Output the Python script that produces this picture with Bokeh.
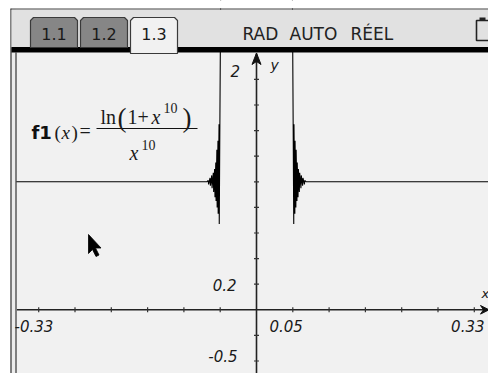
from bokeh.plotting import figure
from bokeh.models import Range1d
from bokeh.core.properties import value
from bokeh.embed import file_html
from bokeh.resources import INLINE
import math

# ---------------- data ----------------
# f1(x) = ln(1+x^10)/x^10 as drawn by the calculator
left_x = [-0.331, -0.071, -0.0685, -0.0665, -0.066, -0.064, -0.0635, -0.0617, -0.0612,
          -0.0595, -0.059, -0.0577, -0.0572, -0.0561, -0.0557, -0.0546, -0.0542,
          -0.0531, -0.0528, -0.0516, -0.0513, -0.0492]
left_y = [1.0, 1.0, 1.0, 1.01, 0.98, 1.03, 0.97, 1.05, 0.95,
          1.07, 0.92, 1.10, 0.88, 1.15, 0.85, 1.25, 0.80,
          1.32, 0.75, 1.45, 0.67, 2.6]
right_x = [0.0493, 0.0513, 0.0516, 0.0528, 0.0531, 0.0542, 0.0546, 0.0557, 0.0561,
           0.0572, 0.0577, 0.059, 0.0595, 0.0612, 0.0617, 0.0635, 0.064, 0.066,
           0.0665, 0.0685, 0.071, 0.325]
right_y = [2.6, 0.67, 1.45, 0.75, 1.32, 0.80, 1.25, 0.85, 1.15,
           0.88, 1.10, 0.92, 1.07, 0.95, 1.05, 0.97, 1.03, 0.98,
           1.01, 1.0, 1.0, 1.0]

x_ticks = [-0.30, -0.25, -0.20, -0.15, -0.10, -0.05, 0.05, 0.10, 0.15, 0.20, 0.25, 0.30]
y_ticks = [-0.4, -0.2, 0.2, 0.4, 0.6, 0.8, 1.0, 1.2, 1.4, 1.6, 1.8]
x_axis_labels = ["-0.33", "0.05", "0.33"]
y_axis_labels = ["2", "0.2", "-0.5"]
tab_labels = ["1.1", "1.2", "1.3"]
status_words = ["RAD", "AUTO", "RÉEL"]

# ---------------- figure ----------------
X0, X1 = -0.35262, 0.31956
Y0, Y1 = -0.4977, 2.4164
p = figure(width=488, height=373, output_backend="svg", toolbar_location=None,
           x_axis_type=None, y_axis_type=None, min_border=0,
           x_range=Range1d(X0, X1), y_range=Range1d(Y0, Y1),
           background_fill_color="white", border_fill_color="white",
           outline_line_color=None)
p.extra_x_ranges = {"px": Range1d(0, 488)}
p.extra_y_ranges = {"py": Range1d(373, 0)}
PX = dict(x_range_name="px", y_range_name="py")
TEXT_DY = -5


def txt(x, y, s, size, font="DejaVu Sans", style="normal", align="left",
        color="#1a1a1a"):
    p.text(x=[x], y=[y + TEXT_DY], text=[s], text_font=value(font),
           text_font_style=style, text_font_size=value(f"{size}px"),
           text_align=align, text_baseline="alphabetic", text_color=color, **PX)


# plot area background
p.quad(left=[15], right=[488], top=[52], bottom=[373], fill_color="#f1f1f1",
       line_color=None, **PX)

# axes
p.segment(x0=[-0.33, 0], y0=[0, Y0], x1=[X1, 0], y1=[0, 2.0], line_color="#222222",
          line_width=1.6)
p.scatter(x=x_ticks, y=[0] * len(x_ticks), marker="dash", angle=math.pi / 2, size=5,
          line_color="#333333", line_width=1.2)
p.scatter(x=[0] * len(y_ticks), y=y_ticks, marker="dash", size=5,
          line_color="#333333", line_width=1.2)
# arrow heads
p.patch(x=[256, 251.5, 256, 260.5], y=[52.5, 64, 61, 64], fill_color="#111111",
        line_color="#111111", line_width=1, **PX)
p.patch(x=[488.5, 480, 483, 480], y=[309.3, 305, 309.3, 313.6], fill_color="#111111",
        line_color="#111111", line_width=1, **PX)

# curve
p.line(left_x, left_y, line_color="black", line_width=1.1)
p.line(right_x, right_y, line_color="black", line_width=1.1)

# left margin and double frame (over the curve)
p.quad(left=[-5], right=[10], top=[-5], bottom=[380], fill_color="white",
       line_color=None, **PX)
p.quad(left=[10], right=[15], top=[8], bottom=[373], fill_color="#ececec",
       line_color=None, **PX)
p.segment(x0=[10.5, 15.5], y0=[8, 52], x1=[10.5, 15.5], y1=[373, 373],
          line_color="#333333", line_width=1.2, **PX)

# axis labels
txt(14, 330, x_axis_labels[0], 15, style="italic")
txt(269, 330, x_axis_labels[1], 15, style="italic")
txt(484, 330, x_axis_labels[2], 15, style="italic", align="right")
txt(230, 75, y_axis_labels[0], 15, style="italic")
txt(236, 289, y_axis_labels[1], 15, style="italic", align="right")
txt(237, 360, y_axis_labels[2], 15, style="italic", align="right")
txt(270, 69, "y", 14, style="italic")
txt(481, 298, "x", 13, style="italic")

# formula f1(x) = ln(1+x^10)/x^10
txt(31, 137, "f1", 18, font="DejaVu Sans", style="bold", color="#111111")
txt(54, 137, "(", 19, font="Liberation Serif")
txt(61, 137, "x", 19, font="Liberation Serif", style="italic")
txt(71, 137, ")", 19, font="Liberation Serif")
txt(79, 135, "=", 20, font="Liberation Serif")
p.segment(x0=[96], y0=[128], x1=[197], y1=[128], line_color="#111111",
          line_width=1.2, **PX)
txt(100, 121, "ln", 20, font="Liberation Serif")
txt(117, 122, "(", 27, font="Liberation Serif")
txt(127, 121, "1+", 20, font="Liberation Serif")
txt(151, 121, "x", 20, font="Liberation Serif", style="italic")
txt(163, 112, "10", 14, font="Liberation Serif")
txt(182, 122, ")", 27, font="Liberation Serif")
txt(129, 157, "x", 20, font="Liberation Serif", style="italic")
txt(141, 149, "10", 14, font="Liberation Serif")

# mouse cursor
p.patch(x=[88, 88, 92, 95.5, 98.5, 95, 100.5],
        y=[234, 253, 249, 256, 254.5, 247.5, 247.5],
        fill_color="#000000", line_color="#000000", line_width=0.8, **PX)

# ---------------- top chrome ----------------
p.quad(left=[-5], right=[495], top=[-5], bottom=[8], fill_color="white",
       line_color=None, **PX)
p.quad(left=[11], right=[488], top=[9], bottom=[47], fill_color="#e1e1e1",
       line_color=None, **PX)
p.segment(x0=[10], y0=[8.5], x1=[488], y1=[8.5], line_color="#444444",
          line_width=1.2, **PX)
p.quad(left=[11], right=[488], top=[46.5], bottom=[52], fill_color="#000000",
       line_color=None, **PX)
tab_left = [30, 80, 130]
tab_fill = ["#868686", "#868686", "#f1f1f1"]
for i, lft in enumerate(tab_left):
    bottom = 53 if i == 2 else 47
    p.patch(x=[lft, lft, lft + 3, lft + 44, lft + 47, lft + 47],
            y=[bottom, 20, 17, 17, 20, bottom], fill_color=tab_fill[i],
            line_color="#3a3a3a", line_width=1.2, **PX)
    txt(lft + 23.5, 38, tab_labels[i], 16, align="center", color="#1a1a1a")

txt(242, 38, status_words[0], 17, color="#222222")
txt(289, 38, status_words[1], 17, color="#222222")
txt(350, 38, status_words[2], 17, color="#222222")

# battery icon
p.quad(left=[476], right=[492], top=[20], bottom=[40], fill_color=None,
       line_color="#222222", line_width=1.6, **PX)
p.quad(left=[479], right=[485], top=[17], bottom=[20], fill_color="#222222",
       line_color=None, **PX)

open("out.html", "w").write(file_html(p, INLINE))
